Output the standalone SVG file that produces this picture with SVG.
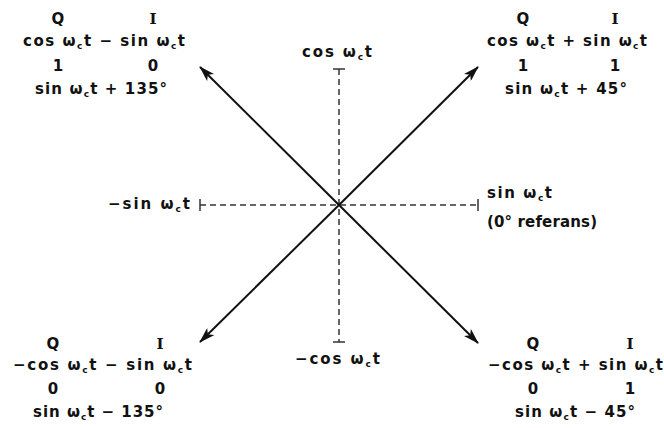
<svg xmlns="http://www.w3.org/2000/svg" width="664" height="428" viewBox="0 0 664 428">
<style>
text{font-family:"DejaVu Sans","Liberation Sans",sans-serif;font-weight:bold;font-size:15px;fill:#111;text-anchor:middle}
.s{font-size:9px}
.l{text-anchor:start}
.e{text-anchor:end}
.i{font-family:"DejaVu Serif","Liberation Serif",serif}
.arrow{stroke:#111;stroke-width:2;fill:none}
.dash{stroke:#333;stroke-width:1.5;stroke-dasharray:6 4;fill:none}
.tick{stroke:#333;stroke-width:1.5;fill:none}
</style>
<defs>
<marker id="ah" viewBox="0 0 16 10" refX="15" refY="5" markerWidth="16" markerHeight="10" markerUnits="userSpaceOnUse" orient="auto">
<path d="M0,0 L16,5 L0,10 L4,5 Z" fill="#111"/>
</marker>
</defs>
<g id="connectors">
<line class="dash" x1="339" y1="69" x2="339" y2="342"/>
<line class="tick" x1="333" y1="69" x2="345" y2="69"/>
<line class="tick" x1="333" y1="342" x2="345" y2="342"/>
<line class="dash" x1="200" y1="205" x2="478" y2="205"/>
<line class="tick" x1="200" y1="199" x2="200" y2="211"/>
<line class="tick" x1="478" y1="199" x2="478" y2="211"/>
<line class="arrow" x1="339" y1="205" x2="200" y2="67" marker-end="url(#ah)"/>
<line class="arrow" x1="339" y1="205" x2="478" y2="67" marker-end="url(#ah)"/>
<line class="arrow" x1="339" y1="205" x2="200" y2="342" marker-end="url(#ah)"/>
<line class="arrow" x1="339" y1="205" x2="478" y2="343" marker-end="url(#ah)"/>
</g>
<g id="node-tl">
<text x="58" y="24">Q</text>
<text class="i" x="153" y="24">I</text>
<text class="l" x="23" y="46" textLength="162" lengthAdjust="spacing">cos ω<tspan class="s" dy="3">c</tspan><tspan dy="-3">t − sin ω</tspan><tspan class="s" dy="3">c</tspan><tspan dy="-3">t</tspan></text>
<text x="58" y="71">1</text>
<text x="153" y="71">0</text>
<text class="l" x="35" y="94" textLength="132" lengthAdjust="spacing">sin ω<tspan class="s" dy="3">c</tspan><tspan dy="-3">t + 135°</tspan></text>
</g>
<g id="node-tr">
<text x="523" y="24">Q</text>
<text class="i" x="615" y="24">I</text>
<text class="l" x="487" y="46" textLength="160" lengthAdjust="spacing">cos ω<tspan class="s" dy="3">c</tspan><tspan dy="-3">t + sin ω</tspan><tspan class="s" dy="3">c</tspan><tspan dy="-3">t</tspan></text>
<text x="523" y="71">1</text>
<text x="615" y="71">1</text>
<text class="l" x="505" y="94" textLength="122" lengthAdjust="spacing">sin ω<tspan class="s" dy="3">c</tspan><tspan dy="-3">t + 45°</tspan></text>
</g>
<g id="node-bl">
<text x="53" y="349">Q</text>
<text class="i" x="160" y="349">I</text>
<text class="l" x="13" y="370" textLength="179" lengthAdjust="spacing">−cos ω<tspan class="s" dy="3">c</tspan><tspan dy="-3">t − sin ω</tspan><tspan class="s" dy="3">c</tspan><tspan dy="-3">t</tspan></text>
<text x="53" y="394">0</text>
<text x="160" y="394">0</text>
<text class="l" x="33" y="417" textLength="130" lengthAdjust="spacing">sin ω<tspan class="s" dy="3">c</tspan><tspan dy="-3">t − 135°</tspan></text>
</g>
<g id="node-br">
<text x="533" y="349">Q</text>
<text class="i" x="630" y="349">I</text>
<text class="l" x="488" y="370" textLength="175" lengthAdjust="spacing">−cos ω<tspan class="s" dy="3">c</tspan><tspan dy="-3">t + sin ω</tspan><tspan class="s" dy="3">c</tspan><tspan dy="-3">t</tspan></text>
<text x="533" y="394">0</text>
<text x="630" y="394">1</text>
<text class="l" x="515" y="417" textLength="120" lengthAdjust="spacing">sin ω<tspan class="s" dy="3">c</tspan><tspan dy="-3">t − 45°</tspan></text>
</g>
<g id="node-top">
<text class="l" x="302" y="57" textLength="70" lengthAdjust="spacing">cos ω<tspan class="s" dy="3">c</tspan><tspan dy="-3">t</tspan></text>
</g>
<g id="node-left">
<text class="l" x="108" y="209" textLength="82" lengthAdjust="spacing">−sin ω<tspan class="s" dy="3">c</tspan><tspan dy="-3">t</tspan></text>
</g>
<g id="node-right">
<text class="l" x="487" y="198" textLength="65" lengthAdjust="spacing">sin ω<tspan class="s" dy="3">c</tspan><tspan dy="-3">t</tspan></text>
<text class="l" x="487" y="227" textLength="110" lengthAdjust="spacing">(0° referans)</text>
</g>
<g id="node-bottom">
<text class="l" x="295" y="364" textLength="85" lengthAdjust="spacing">−cos ω<tspan class="s" dy="3">c</tspan><tspan dy="-3">t</tspan></text>
</g>
</svg>
